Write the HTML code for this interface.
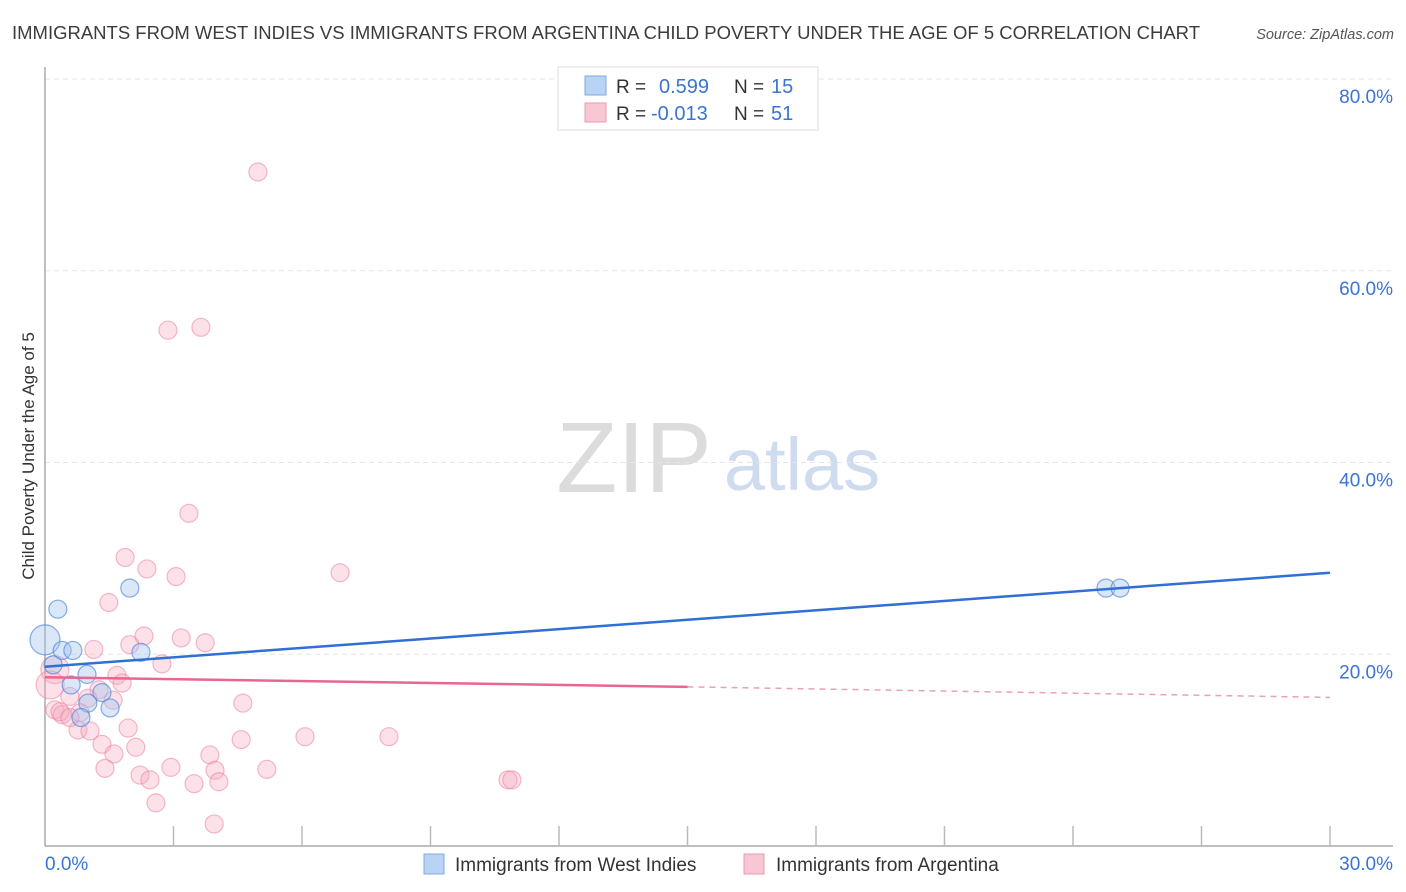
<!DOCTYPE html>
<html><head><meta charset="utf-8">
<style>
body{margin:0;background:#fff;font-family:"Liberation Sans",sans-serif;}
#wrap{position:relative;width:1406px;height:892px;overflow:hidden;}
svg text{font-family:"Liberation Sans",sans-serif;}
</style></head>
<body>
<div id="wrap">
<svg id="chart" width="1406" height="892" xmlns="http://www.w3.org/2000/svg">
<text x="12" y="39" font-size="18" fill="#3c3c3c" textLength="1188" lengthAdjust="spacingAndGlyphs">IMMIGRANTS FROM WEST INDIES VS IMMIGRANTS FROM ARGENTINA CHILD POVERTY UNDER THE AGE OF 5 CORRELATION CHART</text>
<text x="1394" y="39" font-size="14.5" fill="#555" font-style="italic" text-anchor="end">Source: ZipAtlas.com</text>
<text x="634" y="492" font-size="100" fill="#dcdcdc" font-family="Liberation Serif,serif" text-anchor="middle">ZIP</text>
<text x="802" y="490" font-size="74" fill="#cfdcf0" text-anchor="middle">atlas</text>
<text transform="translate(34,456) rotate(-90)" font-size="17" fill="#333" text-anchor="middle">Child Poverty Under the Age of 5</text>
<g id="grid"></g>
<g id="axes"></g>
<g id="pts"></g>
<g id="lines"></g>
<g>
<rect x="558" y="67" width="260" height="63" fill="#fff" stroke="#ddd"/>
<rect x="585" y="76" width="21" height="19" fill="#b9d3f5" stroke="#7fa8e0"/>
<rect x="585" y="103" width="21" height="19" fill="#f9c6d4" stroke="#ea9ab2"/>
<text x="616" y="93" font-size="19" fill="#333">R =</text>
<text x="659" y="93" font-size="20" fill="#3a74d4">0.599</text>
<text x="734" y="93" font-size="19" fill="#333">N =</text>
<text x="771" y="93" font-size="20" fill="#3a74d4">15</text>
<text x="616" y="120" font-size="19" fill="#333">R =</text>
<text x="651" y="120" font-size="20" fill="#3a74d4">-0.013</text>
<text x="734" y="120" font-size="19" fill="#333">N =</text>
<text x="771" y="120" font-size="20" fill="#3a74d4">51</text>
</g>
<g>
<rect x="424" y="854" width="20" height="20" fill="#b9d3f5" stroke="#7fa8e0"/>
<text x="455" y="871" font-size="19" fill="#333">Immigrants from West Indies</text>
<rect x="744" y="854" width="20" height="20" fill="#f9c6d4" stroke="#ea9ab2"/>
<text x="776" y="871" font-size="19" fill="#333">Immigrants from Argentina</text>
</g>
</svg>
</div>
<script>
const yTicks=[20,40,60,80];
const yTickLabels=["20.0%","40.0%","60.0%","80.0%"];
const xTickCount=10;
const xMin=0,xMax=30;
const xLabels=["0.0%","30.0%"];
const blueX=[0,0.30,0.40,0.65,0.19,0.98,0.61,1.33,1.00,0.84,1.52,1.98,2.24,24.77,25.10];
const blueY=[21.5,24.7,20.4,20.4,18.9,17.9,16.8,16.0,14.9,13.4,14.4,26.9,20.2,26.9,26.9];
const blueBig=[0];
const pinkX=[4.97,2.87,3.64,3.36,1.87,2.38,3.06,6.89,1.49,2.31,1.98,3.18,3.74,1.14,2.73,1.68,1.80,0.23,0.12,1.26,0.58,1.00,1.59,4.62,0.23,0.40,0.82,0.77,1.05,1.94,1.33,2.12,6.07,8.03,4.58,3.85,1.61,1.40,2.22,2.94,2.45,3.97,5.18,3.48,4.06,10.81,10.90,2.59,3.95,0.35,0.58];
const pinkY=[70.3,53.8,54.1,34.7,30.1,28.9,28.1,28.5,25.4,21.9,21.0,21.7,21.2,20.5,19.0,17.8,17.0,18.4,16.8,16.3,15.6,15.4,15.2,14.9,14.2,13.7,13.9,12.1,12.0,12.3,10.6,10.3,11.4,11.4,11.1,9.5,9.6,8.1,7.4,8.2,6.9,7.9,8.0,6.5,6.7,6.9,6.9,4.5,2.3,14.0,13.4];
const pinkBig=[17,18];
const blueTrend=[[0,18.7],[30,28.5]];
const pinkTrend=[[0,17.6],[15,16.6],[30,15.5]];

const X0=45,X1=1330,Y0=846,PXPER=9.5875;
function xs(v){return X0+(v-xMin)/(xMax-xMin)*(X1-X0);}
function ys(v){return Y0-v*PXPER;}
const NS="http://www.w3.org/2000/svg";
function mk(tag,attrs,parent){const e=document.createElementNS(NS,tag);for(const k in attrs)e.setAttribute(k,attrs[k]);parent.appendChild(e);return e;}
const grid=document.getElementById('grid'),axes=document.getElementById('axes'),pts=document.getElementById('pts'),lines=document.getElementById('lines');
yTicks.forEach((t,i)=>{
  const l=mk('line',{x1:X0,x2:1393,y1:ys(t),y2:ys(t),stroke:'#e6e6e6','stroke-dasharray':'5,4'},grid);
  
  
  const tx=mk('text',{x:1393,y:ys(t)+24,'font-size':19,fill:'#3a74d4','text-anchor':'end'},axes);
  tx.textContent=yTickLabels[i];
  
  
});
const topG=mk('line',{x1:X0,x2:1393,y1:79,y2:79,stroke:'#e6e6e6','stroke-dasharray':'5,4'},grid);


const ya=mk('line',{x1:X0,x2:X0,y1:67,y2:Y0,stroke:'#aaa','stroke-width':1.5},axes);


const xa=mk('line',{x1:X0,x2:1393,y1:Y0,y2:Y0,stroke:'#aaa','stroke-width':1.5},axes);


for(let i=1;i<=xTickCount;i++){
  const v=xMin+(xMax-xMin)*i/xTickCount;
  const t=mk('line',{x1:xs(v),x2:xs(v),y1:826,y2:Y0,stroke:'#bbb','stroke-width':1.5},axes);
  
  
}
const xl0=mk('text',{x:45,y:870,'font-size':19,fill:'#3a74d4'},axes);xl0.textContent=xLabels[0];


const xl1=mk('text',{x:1393,y:870,'font-size':19,fill:'#3a74d4','text-anchor':'end'},axes);xl1.textContent=xLabels[1];



pinkX.forEach((x,i)=>{
  const c=mk('circle',{cx:xs(x),cy:ys(pinkY[i]),r:pinkBig.includes(i)?14:9,fill:'rgba(246,170,193,0.35)',stroke:'rgba(234,130,160,0.55)','stroke-width':1.2},pts);
  
  
});
blueX.forEach((x,i)=>{
  const c=mk('circle',{cx:xs(x),cy:ys(blueY[i]),r:blueBig.includes(i)?15:9,fill:'rgba(160,196,240,0.4)',stroke:'rgba(70,130,215,0.65)','stroke-width':1.2},pts);
  
  
});
const bl=mk('line',{x1:xs(blueTrend[0][0]),y1:ys(blueTrend[0][1]),x2:xs(blueTrend[1][0]),y2:ys(blueTrend[1][1]),stroke:'#2f6fd6','stroke-width':2.5},lines);


const pl=mk('line',{x1:xs(pinkTrend[0][0]),y1:ys(pinkTrend[0][1]),x2:xs(pinkTrend[1][0]),y2:ys(pinkTrend[1][1]),stroke:'#e8668f','stroke-width':2.5},lines);


const pd=mk('line',{x1:xs(pinkTrend[1][0]),y1:ys(pinkTrend[1][1]),x2:xs(pinkTrend[2][0]),y2:ys(pinkTrend[2][1]),stroke:'#eaa0b8','stroke-width':1.5,'stroke-dasharray':'6,5'},lines);


</script>
</body></html>
